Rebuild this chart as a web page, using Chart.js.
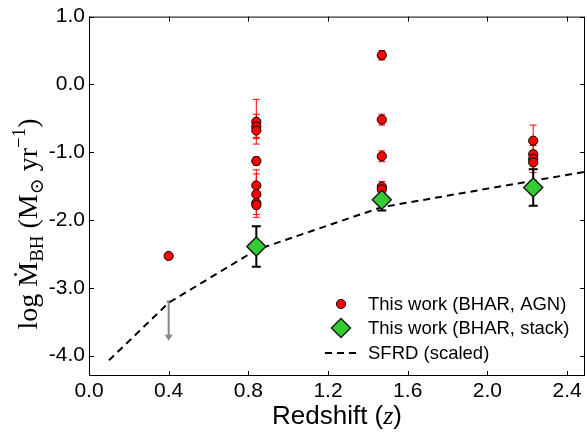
<!DOCTYPE html>
<html>
<head>
<meta charset="utf-8">
<script src="https://cdn.jsdelivr.net/npm/chart.js@4/dist/chart.umd.min.js"></script>
<style>
  html, body { margin: 0; padding: 0; background: #fff; }
</style>
</head>
<body>
<canvas id="grafico" width="587" height="434"></canvas>
<script>
// tick values
const xTicks = [0.0, 0.4, 0.8, 1.2, 1.6, 2.0, 2.4];
const yTicks = [1.0, 0.0, -1.0, -2.0, -3.0, -4.0];

// individual AGN (red circles)
const agnZ = [0.40,
  0.84, 0.84, 0.84, 0.84, 0.84, 0.84, 0.84, 0.84,
  1.47, 1.47, 1.47, 1.47, 1.47,
  2.23, 2.23, 2.23, 2.23];
const agnV = [-2.53,
  -0.55, -0.62, -0.68, -1.13, -1.49, -1.62, -1.75, -1.78,
  0.43, -0.52, -1.06, -1.51, -1.55,
  -0.83, -1.03, -1.10, -1.15];
const agnErr = [0,
  0.33, 0.18, 0.10, 0.06, 0.23, 0.30, 0.08, 0.18,
  0.07, 0.08, 0.08, 0.08, 0.05,
  0.23, 0.05, 0.20, 0.10];

// stacked (green diamonds)
const stackZ = [0.84, 1.47, 2.23];
const stackV = [-2.39, -1.70, -1.52];
const stackErr = [0.30, 0.16, 0.27];

// upper limit at low z (grey arrow)
const limZ = [0.40];
const limV = [-3.20];
const limLen = [0.58];

// SFRD, scaled (dashed line)
const sfrdZ = [0.10, 0.40, 0.84, 1.47, 2.23, 2.49];
const sfrdV = [-4.07, -3.22, -2.44, -1.81, -1.42, -1.29];

const labels = ["This work (BHAR, AGN)", "This work (BHAR, stack)", "SFRD (scaled)"];

const sans = '"Liberation Sans", Arial, Helvetica, sans-serif';
const serif = '"Liberation Serif", "DejaVu Serif", serif';

function pts(xs, ys) {
  return xs.map((x, i) => ({ x: x, y: ys[i] }));
}

function diamond(ctx, cx, cy, r) {
  ctx.beginPath();
  ctx.moveTo(cx, cy - r);
  ctx.lineTo(cx + r, cy);
  ctx.lineTo(cx, cy + r);
  ctx.lineTo(cx - r, cy);
  ctx.closePath();
}

function barras(ctx, sx, sy, xs, ys, errs, cor, lw, cap) {
  ctx.strokeStyle = cor;
  ctx.lineWidth = lw;
  xs.forEach((z, i) => {
    if (!errs[i]) return;
    const px = sx.getPixelForValue(z);
    const top = sy.getPixelForValue(ys[i] + errs[i]);
    const bot = sy.getPixelForValue(ys[i] - errs[i]);
    ctx.beginPath();
    ctx.moveTo(px, top); ctx.lineTo(px, bot);
    ctx.moveTo(px - cap, top); ctx.lineTo(px + cap, top);
    ctx.moveTo(px - cap, bot); ctx.lineTo(px + cap, bot);
    ctx.stroke();
  });
}

// error bars + upper limit arrow, under the markers
const errorBars = {
  id: "errorBars",
  beforeDatasetsDraw(chart) {
    const { ctx, scales: { x, y } } = chart;
    ctx.save();
    barras(ctx, x, y, agnZ, agnV, agnErr, "#ff0000", 1, 3.5);
    barras(ctx, x, y, stackZ, stackV, stackErr, "#000000", 2, 4.5);

    ctx.strokeStyle = "#888888";
    ctx.fillStyle = "#888888";
    ctx.lineWidth = 2;
    limZ.forEach((z, i) => {
      const px = x.getPixelForValue(z);
      const top = y.getPixelForValue(limV[i]);
      const bot = y.getPixelForValue(limV[i] - limLen[i]);
      ctx.beginPath();
      ctx.moveTo(px, top); ctx.lineTo(px, bot - 5);
      ctx.moveTo(px - 2, top); ctx.lineTo(px + 2, top);
      ctx.stroke();
      ctx.beginPath();
      ctx.moveTo(px - 4, bot - 6);
      ctx.lineTo(px + 4, bot - 6);
      ctx.lineTo(px, bot);
      ctx.closePath();
      ctx.fill();
    });
    ctx.restore();
  }
};

// frame, inward ticks, legend and axis titles
const moldura = {
  id: "moldura",
  afterDraw(chart) {
    const { ctx, chartArea: a, scales: { x, y } } = chart;
    ctx.save();
    ctx.strokeStyle = "#000";
    ctx.lineWidth = 1;
    ctx.strokeRect(a.left + 0.5, a.top + 0.5, a.right - a.left - 1, a.bottom - a.top - 1);
    ctx.beginPath();
    xTicks.forEach((v) => {
      const px = Math.round(x.getPixelForValue(v)) + 0.5;
      ctx.moveTo(px, a.bottom); ctx.lineTo(px, a.bottom - 5);
      ctx.moveTo(px, a.top); ctx.lineTo(px, a.top + 5);
    });
    yTicks.forEach((v) => {
      const py = Math.round(y.getPixelForValue(v)) + 0.5;
      ctx.moveTo(a.left, py); ctx.lineTo(a.left + 5, py);
      ctx.moveTo(a.right, py); ctx.lineTo(a.right - 5, py);
    });
    ctx.stroke();

    // legend
    const lx = 341, tx = 368, rows = [304, 328, 353];
    ctx.fillStyle = "#ff0000";
    ctx.strokeStyle = "#000";
    ctx.lineWidth = 1;
    ctx.beginPath();
    ctx.arc(lx, rows[0], 4.6, 0, Math.PI * 2);
    ctx.fill(); ctx.stroke();
    ctx.fillStyle = "#33cc33";
    ctx.strokeStyle = "#1a1a1a";
    ctx.lineWidth = 1.5;
    diamond(ctx, lx, rows[1], 9.5);
    ctx.fill(); ctx.stroke();
    ctx.strokeStyle = "#000";
    ctx.lineWidth = 2;
    ctx.setLineDash([7, 5]);
    ctx.beginPath();
    ctx.moveTo(325, rows[2]); ctx.lineTo(357, rows[2]);
    ctx.stroke();
    ctx.setLineDash([]);
    ctx.fillStyle = "#000";
    ctx.font = "18.5px " + sans;
    ctx.textBaseline = "middle";
    ctx.textAlign = "left";
    labels.forEach((t, i) => ctx.fillText(t, tx, rows[i] + 1));

    // x title: Redshift (z)
    const tf = 26;
    const partes = [
      { t: "Redshift (", f: tf + "px " + sans },
      { t: "z", f: "italic " + tf + "px " + serif },
      { t: ")", f: tf + "px " + sans }
    ];
    let tot = 0;
    partes.forEach((p) => { ctx.font = p.f; p.w = ctx.measureText(p.t).width; tot += p.w; });
    let cx = (a.left + a.right) / 2 - tot / 2;
    ctx.textBaseline = "alphabetic";
    partes.forEach((p) => { ctx.font = p.f; ctx.fillText(p.t, cx, 424); cx += p.w; });

    // y title: log Mdot_BH (M_sun yr^-1)
    const f = 28, s = 19;
    const yp = [
      { t: "log ", s: f, dy: 0 },
      { t: "Ṁ", s: f, dy: 0 },
      { t: "BH", s: s, dy: 6 },
      { t: " (M", s: f, dy: 0 },
      { t: "⊙", s: s, dy: 6 },
      { t: " yr", s: f, dy: 0 },
      { t: "−1", s: s, dy: -12 },
      { t: ")", s: f, dy: 0 }
    ];
    ctx.translate(37, 224);
    ctx.rotate(-Math.PI / 2);
    tot = 0;
    yp.forEach((p) => { ctx.font = p.s + "px " + serif; p.w = ctx.measureText(p.t).width; tot += p.w; });
    let px = -tot / 2;
    yp.forEach((p) => { ctx.font = p.s + "px " + serif; ctx.fillText(p.t, px, p.dy); px += p.w; });
    ctx.restore();
  }
};

new Chart(document.getElementById("grafico"), {
  type: "scatter",
  data: {
    datasets: [
      {
        label: labels[0],
        data: pts(agnZ, agnV),
        backgroundColor: "#ff0000",
        borderColor: "#000000",
        borderWidth: 1,
        pointRadius: 4.6,
        order: 2
      },
      {
        label: labels[1],
        data: pts(stackZ, stackV),
        backgroundColor: "#33cc33",
        borderColor: "#1a1a1a",
        borderWidth: 1.5,
        pointStyle: "rectRot",
        pointRadius: 9.5,
        order: 1
      },
      {
        type: "line",
        label: labels[2],
        data: pts(sfrdZ, sfrdV),
        borderColor: "#000000",
        borderWidth: 2,
        borderDash: [7, 5],
        pointRadius: 0,
        fill: false,
        tension: 0,
        order: 3
      }
    ]
  },
  options: {
    responsive: false,
    animation: false,
    layout: { padding: { left: 0, right: 2, top: 16, bottom: 0 }, autoPadding: false },
    plugins: {
      legend: { display: false },
      tooltip: { enabled: false }
    },
    scales: {
      x: {
        type: "linear",
        min: 0,
        max: 2.49,
        afterBuildTicks: (s) => { s.ticks = xTicks.map((v) => ({ value: v })); },
        afterFit: (s) => { s.height = 58; },
        grid: { display: false, drawTicks: false },
        border: { display: false },
        ticks: {
          color: "#000",
          padding: 3,
          maxRotation: 0,
          font: { family: sans, size: 21 },
          callback: (v) => v.toFixed(1)
        }
      },
      y: {
        type: "linear",
        min: -4.3,
        max: 1.0,
        afterBuildTicks: (s) => { s.ticks = yTicks.map((v) => ({ value: v })); },
        afterFit: (s) => { s.width = 89; },
        grid: { display: false, drawTicks: false },
        border: { display: false },
        ticks: {
          color: "#000",
          padding: 4,
          font: { family: sans, size: 21 },
          callback: (v) => v.toFixed(1)
        }
      }
    }
  },
  plugins: [errorBars, moldura]
});
</script>
</body>
</html>
